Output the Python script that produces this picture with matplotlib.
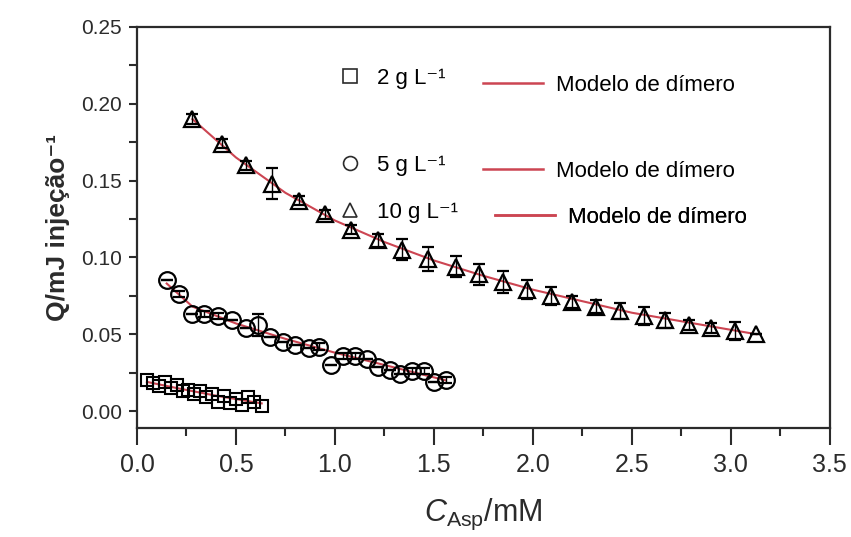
"""ITC dilution heats for Asp at three concentrations, with dimer-model fits."""

import matplotlib

matplotlib.use("Agg")
import matplotlib.pyplot as plt  # noqa: E402
from matplotlib.lines import Line2D  # noqa: E402

plt.rcParams["font.family"] = ["Liberation Sans", "DejaVu Sans"]
plt.rcParams["mathtext.fontset"] = "custom"
plt.rcParams["mathtext.rm"] = "Liberation Sans"
plt.rcParams["mathtext.it"] = "Liberation Sans:italic"

LEG_FONT = ["Liberation Sans", "DejaVu Sans"]
FIT_COLOR = "#cc4552"
INK = "#2b2b2b"

# 2 g/L
sq_x = [0.05, 0.08, 0.11, 0.14, 0.17, 0.20, 0.23, 0.26, 0.29, 0.32,
        0.35, 0.38, 0.41, 0.44, 0.47, 0.50, 0.53, 0.56, 0.59, 0.63]
sq_y = [0.020, 0.018, 0.016, 0.019, 0.015, 0.017, 0.013, 0.014, 0.011, 0.013,
        0.009, 0.011, 0.006, 0.010, 0.005, 0.008, 0.004, 0.009, 0.006, 0.003]
sq_fit_x = [0.05, 0.2, 0.4, 0.63]
sq_fit_y = [0.019, 0.015, 0.010, 0.005]

# 5 g/L
ci_x = [0.15, 0.21, 0.28, 0.34, 0.41, 0.48, 0.55, 0.61, 0.67, 0.74, 0.80, 0.87,
        0.92, 0.98, 1.04, 1.10, 1.16, 1.22, 1.28, 1.33, 1.39, 1.45, 1.50, 1.56]
ci_y = [0.085, 0.076, 0.063, 0.063, 0.062, 0.059, 0.054, 0.056, 0.048, 0.045, 0.043, 0.041,
        0.042, 0.030, 0.036, 0.036, 0.034, 0.029, 0.027, 0.024, 0.026, 0.026, 0.019, 0.020]
ci_err = [0.0, 0.002, 0.0, 0.002, 0.002, 0.0, 0.0, 0.007, 0.0, 0.0, 0.0, 0.0,
          0.002, 0.0, 0.002, 0.002, 0.0, 0.0, 0.0, 0.0, 0.002, 0.002, 0.0, 0.002]
ci_fit_x = [0.15, 0.28, 0.5, 0.75, 1.0, 1.25, 1.56]
ci_fit_y = [0.083, 0.068, 0.057, 0.047, 0.038, 0.030, 0.020]

# 10 g/L
tr_x = [0.28, 0.43, 0.55, 0.68, 0.82, 0.95, 1.08, 1.22, 1.34, 1.47, 1.61, 1.73,
        1.85, 1.97, 2.09, 2.20, 2.32, 2.44, 2.56, 2.67, 2.79, 2.90, 3.02, 3.13]
tr_y = [0.190, 0.174, 0.160, 0.148, 0.137, 0.128, 0.118, 0.111, 0.105, 0.099, 0.094, 0.089,
        0.084, 0.079, 0.075, 0.071, 0.068, 0.065, 0.062, 0.059, 0.056, 0.054, 0.052, 0.050]
tr_err = [0.003, 0.003, 0.003, 0.010, 0.003, 0.003, 0.003, 0.004, 0.007, 0.008, 0.007, 0.007,
          0.007, 0.006, 0.006, 0.004, 0.004, 0.005, 0.006, 0.005, 0.003, 0.003, 0.006, 0.0]
tr_fit_x = [0.28, 0.5, 0.75, 1.0, 1.25, 1.5, 1.75, 2.0, 2.5, 3.13]
tr_fit_y = [0.190, 0.165, 0.142, 0.124, 0.110, 0.098, 0.088, 0.079, 0.064, 0.050]

# legend rows: marker, label, y of label (axes frac), x/y of fit-line entry (axes frac)
leg_markers = ["s", "o", "^"]
leg_labels = ["2 g L⁻¹", "5 g L⁻¹", "10 g L⁻¹"]
leg_label_y = [0.872, 0.655, 0.537]
leg_fit_x = [0.499, 0.499, 0.517]
leg_fit_y = [0.855, 0.640, 0.525]

fig = plt.figure(figsize=(8.51, 5.37), dpi=100)
ax = fig.add_axes([0.161, 0.203, 0.814, 0.747])

for fx, fy in [(sq_fit_x, sq_fit_y), (ci_fit_x, ci_fit_y), (tr_fit_x, tr_fit_y)]:
    ax.plot(fx, fy, color=FIT_COLOR, lw=1.5, zorder=2)

ax.plot(sq_x, sq_y, "s", ms=9, mfc="none", mec="black", mew=1.5, zorder=3)
ax.errorbar(ci_x, ci_y, yerr=ci_err, fmt="o", ms=12, mfc="none", mec="black", mew=1.6,
            ecolor="black", elinewidth=1.0, capsize=4, zorder=3)
ax.errorbar(tr_x, tr_y, yerr=tr_err, fmt="^", ms=12, mfc="none", mec="black", mew=1.6,
            ecolor="black", elinewidth=1.0, capsize=4, zorder=3)

ax.set_xlim(0, 3.5)
ax.set_ylim(-0.011, 0.25)
ax.set_xticks([0.0, 0.5, 1.0, 1.5, 2.0, 2.5, 3.0, 3.5])
ax.set_xticks([0.25, 0.75, 1.25, 1.75, 2.25, 2.75, 3.25], minor=True)
ax.set_yticks([0.00, 0.05, 0.10, 0.15, 0.20, 0.25])
ax.set_yticks([0.025, 0.075, 0.125, 0.175, 0.225], minor=True)
ax.xaxis.set_major_formatter(lambda v, p: f"{v:.1f}")
ax.yaxis.set_major_formatter(lambda v, p: f"{v:.2f}")
ax.tick_params(which="both", direction="out", top=False, right=False,
               colors=INK, width=1.5)
ax.tick_params(axis="x", which="major", length=12, labelsize=18, pad=6)
ax.tick_params(axis="x", which="minor", length=6)
ax.tick_params(axis="y", which="both", length=6, labelsize=15, pad=5)
for s in ax.spines.values():
    s.set_linewidth(1.6)
    s.set_color(INK)

ax.set_xlabel(r"$C_{\mathrm{Asp}}\mathrm{/mM}$", fontsize=22, labelpad=14, color=INK)
ax.set_ylabel("Q/mJ injeção⁻¹", fontsize=19, fontweight="bold", labelpad=8, color=INK)

for mk, lab, ly, fx, fy in zip(leg_markers, leg_labels, leg_label_y, leg_fit_x, leg_fit_y):
    h_pts = Line2D([], [], ls="none", marker=mk, ms=10, mfc="none", mec=INK, mew=1.2)
    leg = ax.legend([h_pts], [lab], frameon=False, loc="center left",
                    bbox_to_anchor=(0.291, ly), borderpad=0, borderaxespad=0,
                    handlelength=1.0, handletextpad=0.75,
                    prop={"family": LEG_FONT, "size": 16})
    ax.add_artist(leg)
    h_fit = Line2D([], [], color=FIT_COLOR, lw=1.8)
    leg = ax.legend([h_fit], ["Modelo de dímero"], frameon=False, loc="center left",
                    bbox_to_anchor=(fx, fy), borderpad=0, borderaxespad=0,
                    handlelength=2.7, handletextpad=0.6,
                    prop={"family": LEG_FONT, "size": 16})
    ax.add_artist(leg)

fig.savefig("out.png", dpi=100)
plt.close(fig)
